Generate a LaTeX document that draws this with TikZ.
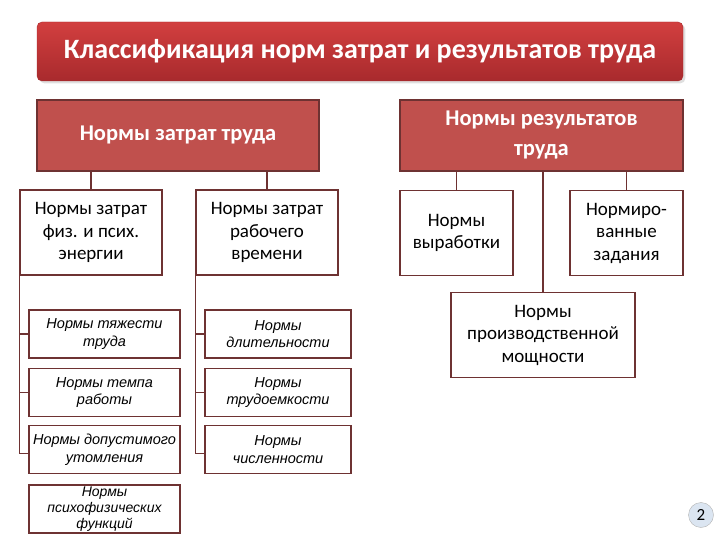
\documentclass[tikz,border=0pt]{standalone}
\usepackage{fontspec}
\setmainfont{Carlito}
\newfontfamily\arialfont{Liberation Sans}
\usetikzlibrary{positioning, shadows}

\definecolor{headred}{HTML}{C0504D}
\definecolor{linered}{HTML}{6E3232}
\definecolor{titletop}{HTML}{D23F3F}
\definecolor{titlebot}{HTML}{A82A2D}
\definecolor{pageblue}{HTML}{DBE5F1}

\begin{document}
\begin{tikzpicture}[x=1pt, y=-1pt,
    every node/.style={inner sep=0pt, align=center},
    titlebox/.style={rounded corners=5pt, top color=titletop, bottom color=titlebot,
      draw=titlebot, drop shadow={opacity=0.25}, text=white,
      font=\fontsize{28}{32}\selectfont\bfseries},
    headbox/.style={draw=linered, fill=headred, line width=1.2pt, text=white,
      minimum height=71pt, font=\fontsize{22.5}{30}\selectfont\bfseries},
    kindbox/.style={draw=linered, line width=1.5pt, fill=white,
      minimum height=85pt, font=\fontsize{19}{22.5}\selectfont},
    smallbox/.style={draw=linered, line width=1.5pt, fill=white,
      minimum height=48pt, font=\arialfont\itshape\fontsize{14.5}{17.5}\selectfont},
    link/.style={draw=linered, line width=1.5pt}]
    \useasboundingbox (0,0) rectangle (720,540);

    % title
    \node[titlebox, minimum width=646pt, minimum height=59pt] (title) at (360,51.5)
      {\raisebox{3pt}{Классификация норм затрат и результатов труда}};

    % headers
    \node[headbox, minimum width=282pt] (costs) at (178,135.5) {Нормы затрат труда};
    \node[headbox, minimum width=283pt] (results) at (541.5,135.5) {Нормы результатов\\труда};

    % left part
    \node[kindbox, minimum width=142pt] (phys) at (91,232.5) {Нормы затрат\\физ. и псих.\\энергии};
    \node[kindbox, minimum width=142pt] (time) at (267,232.5) {Нормы затрат\\рабочего\\времени};

    \node[smallbox, minimum width=151pt] (heavy) at (104.5,334) {Нормы тяжести\\труда};
    \node[smallbox, minimum width=151pt] (tempo) at (104.5,392.5) {Нормы темпа\\работы};
    \node[smallbox, minimum width=151pt] (fatigue) at (104.5,449.5) {Нормы допустимого\\утомления};
    \node[smallbox, minimum width=151pt, font=\arialfont\itshape\fontsize{14}{16}\selectfont]
      (psycho) at (104.5,509) {Нормы\\психофизических\\функций};

    \node[smallbox, minimum width=146pt] (duration) at (278,334) {Нормы\\длительности};
    \node[smallbox, minimum width=146pt] (labour) at (278,392.5) {Нормы\\трудоемкости};
    \node[smallbox, minimum width=146pt] (staff) at (278,449.5) {Нормы\\численности};

    % right part
    \node[kindbox, minimum width=113pt] (output) at (456.5,233) {Нормы\\выработки};
    \node[kindbox, minimum width=113pt] (tasks) at (626.5,233) {Нормиро-\\ванные\\задания};
    \node[kindbox, minimum width=184pt] (capacity) at (543,335) {Нормы\\производственной\\мощности};

    % page number
    \node[circle, draw=gray!60, fill=pageblue, minimum size=25pt,
      font=\fontsize{17}{20}\selectfont] (page) at (701,515) {2};

    % connectors
    \draw[link] (phys.north) -- (phys.north |- costs.south);
    \draw[link] (time.north) -- (time.north |- costs.south);
    \draw[link] (output.north) -- (output.north |- results.south);
    \draw[link] (tasks.north) -- (tasks.north |- results.south);
    \draw[link] (capacity.north) -- (capacity.north |- results.south);

    \draw[link] (phys.south west) |- (heavy.west);
    \draw[link] (phys.south west) |- (tempo.west);
    \draw[link] (phys.south west) |- ([yshift=-4pt]fatigue.west);
    \draw[link] (time.south west) |- (duration.west);
    \draw[link] (time.south west) |- (labour.west);
    \draw[link] (time.south west) |- ([yshift=-4pt]staff.west);
  \end{tikzpicture}
\end{document}
